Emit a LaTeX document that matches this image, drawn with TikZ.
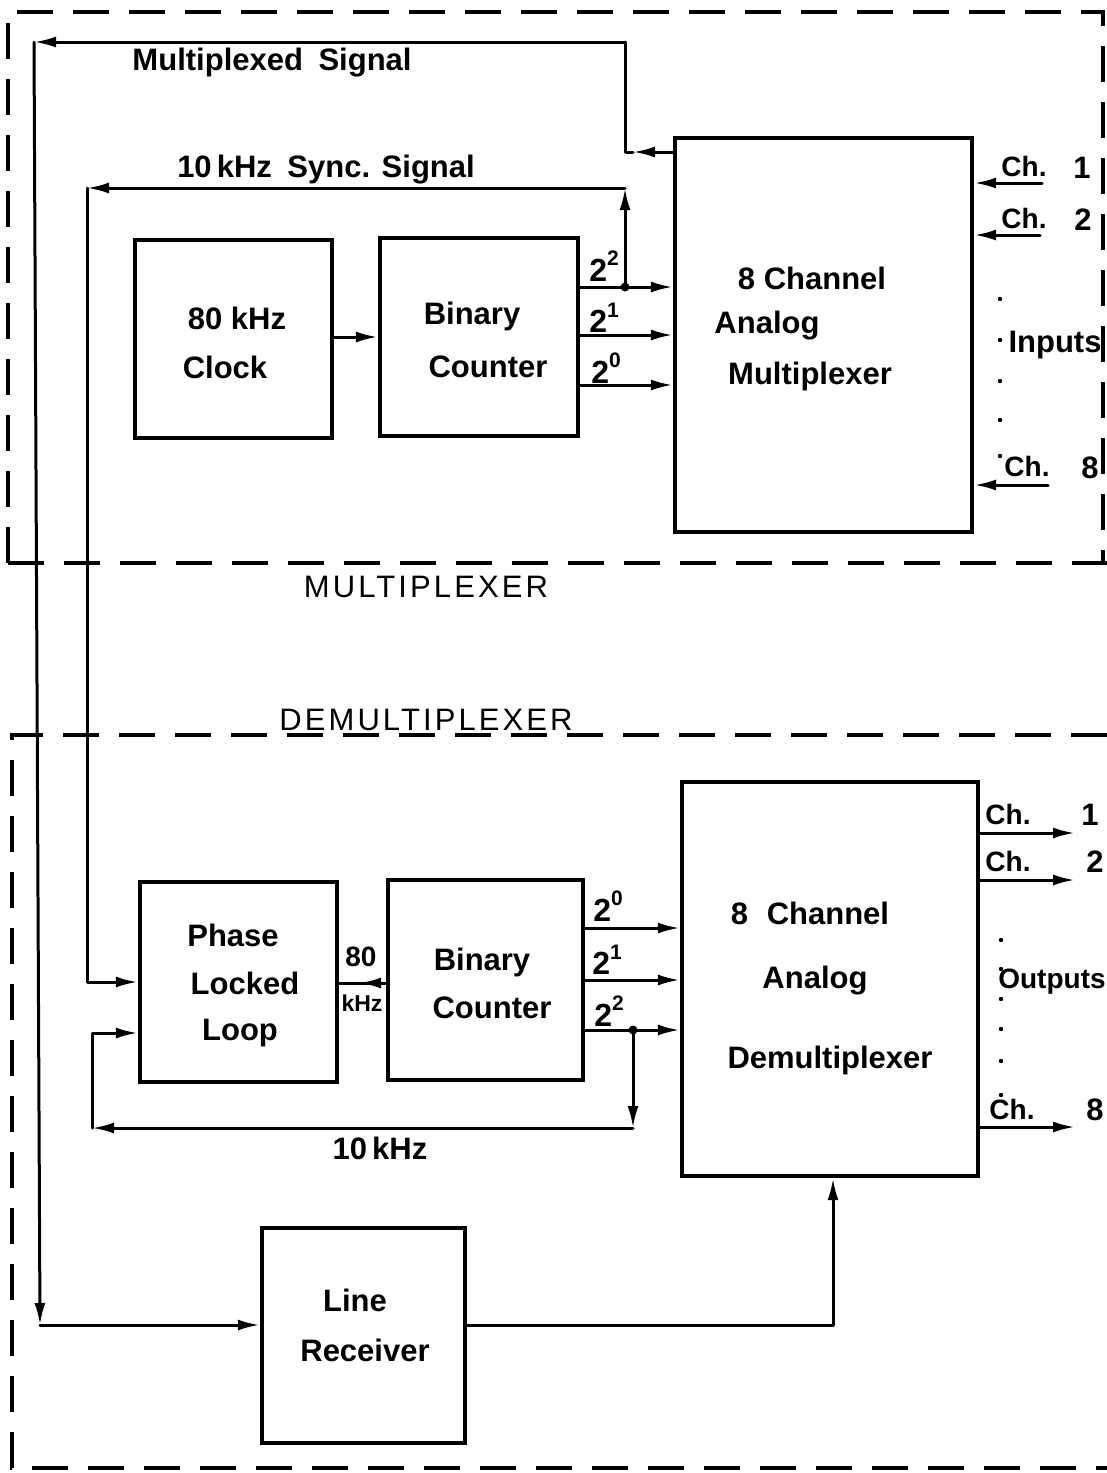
\documentclass[tikz,border=0pt]{standalone}
\usepackage{fontspec}
\setmainfont{Liberation Sans}
\usetikzlibrary{arrows.meta,calc}
\newcommand\mypow[1]{2\raisebox{0.48em}{\fontsize{21}{21}\selectfont #1}}
\begin{document}
\begin{tikzpicture}[x=1pt,y=-1pt,
  blk/.style={draw,line width=4.2pt,inner sep=0pt},
  lbl/.style={inner sep=0pt,font=\fontsize{31}{34}\selectfont\bfseries},
  chl/.style={inner sep=0pt,font=\fontsize{28}{30}\selectfont\bfseries},
  sec/.style={inner sep=0pt,font=\fontsize{31}{32}\selectfont\addfontfeature{LetterSpace=10}},
  pw/.style={inner sep=0pt,font=\fontsize{32}{34}\selectfont\bfseries},
  conn/.style={line width=3pt,line cap=round,line join=round},
  tip/.style={-{Latex[length=22pt,width=11pt]}},
  border/.style={line width=3.2pt,dash pattern=on 36pt off 20pt},
  jdot/.style={circle,fill,inner sep=0pt,minimum size=9pt}]
\fill[white] (0,0) rectangle (1107,1473);
\useasboundingbox (0,0) rectangle (1107,1473);

% dashed section borders
\draw[border] (8,563) -- (8,12) -- (1103,12) -- (1103,563);
\draw[border] (8,563) -- (1107,563);
\draw[border] (1107,735) -- (12,735) -- (12,1468) -- (1107,1468);

% blocks
\node[blk,minimum width=197pt,minimum height=198pt] (clock) at (233.5,339) {};
\node[blk,minimum width=198pt,minimum height=198pt] (cnt1) at (479,337) {};
\node[blk,minimum width=297pt,minimum height=394pt] (mux) at (823.5,335) {};
\node[blk,minimum width=197pt,minimum height=200pt] (pll) at (238.5,982) {};
\node[blk,minimum width=195pt,minimum height=200pt] (cnt2) at (485.5,980) {};
\node[blk,minimum width=296pt,minimum height=394pt] (demux) at (830,979) {};
\node[blk,minimum width=203pt,minimum height=215pt] (lr) at (363.5,1335.5) {};

% block texts
\node[lbl] (t1) at (237,318) {80 kHz};
\node[lbl] (t2) at (225,367) {Clock};
\node[lbl] (t3) at (472,316) {Binary};
\node[lbl] (t4) at (488,367) {Counter};
\node[lbl] (t5) at (812,278) {8 Channel};
\node[lbl] (t6) at (767,326) {Analog};
\node[lbl] (t7) at (810,376) {Multiplexer};
\node[lbl] (t8) at (233,935) {Phase};
\node[lbl] (t9) at (245,983) {Locked};
\node[lbl] (t10) at (240,1033) {Loop};
\node[lbl] (t11) at (482,962) {Binary};
\node[lbl] (t12) at (492,1008) {Counter};
\node[lbl] (t13) at (810,913) {8\hspace{0.6em}Channel};
\node[lbl] (t14) at (815,981) {Analog};
\node[lbl] (t15) at (830,1060) {Demultiplexer};
\node[lbl] (t16) at (355,1300) {Line};
\node[lbl] (t17) at (365,1350) {Receiver};

% signal labels
\node[lbl] (l1) at (272,63) {Multiplexed\hspace{0.5em}Signal};
\node[lbl] (l2) at (326,170) {10\,kHz\hspace{0.5em}Sync. Signal};
\node[sec] (l3) at (426,587) {MULTIPLEXER};
\node[sec,anchor=south] (l4) at (426,731) {DEMULTIPLEXER};
\node[lbl] (l5) at (1055,345) {Inputs};
\node[lbl,font=\fontsize{28}{30}\selectfont\bfseries] (l6) at (1052,982) {Outputs};
\node[lbl] (l7) at (380,1148) {10\,kHz};
\node[lbl,font=\fontsize{28}{30}\selectfont\bfseries] (l8) at (361,957) {80};
\node[lbl,font=\fontsize{23}{24}\selectfont\bfseries] (l9) at (362,1003) {kHz};

% exponent labels
\node[pw] (e1) at (604,266) {\mypow{2}};
\node[pw] (e2) at (604,318) {\mypow{1}};
\node[pw] (e3) at (606,368) {\mypow{0}};
\node[pw] (e4) at (608,906) {\mypow{0}};
\node[pw] (e5) at (607,960) {\mypow{1}};
\node[pw] (e6) at (609,1011) {\mypow{2}};

% channel labels
\node[chl] (c1) at (1024,166) {Ch.};
\node[lbl] (c1n) at (1082,168) {1};
\node[chl] (c2) at (1024,218) {Ch.};
\node[lbl] (c2n) at (1083,220) {2};
\node[chl] (c8) at (1027,466) {Ch.};
\node[lbl] (c8n) at (1090,468) {8};
\node[chl] (d1) at (1008,814) {Ch.};
\node[lbl] (d1n) at (1090,815) {1};
\node[chl] (d2) at (1008,861) {Ch.};
\node[lbl] (d2n) at (1095,862) {2};
\node[chl] (d8) at (1012,1109) {Ch.};
\node[lbl] (d8n) at (1095,1110) {8};

% ellipsis dots
\foreach \yy in {299,340,381,420,456} \fill (1000,\yy) circle (2.2pt);
\foreach \yy in {940,969,999,1029,1061,1095} \fill (1001,\yy) circle (2.2pt);

% coordinates
\coordinate (j1) at (625,287);
\coordinate (m1) at (625,152);
\coordinate (m2) at (625,42);
\coordinate (m3) at (34,42);
\coordinate (m4) at (40,1325);
\coordinate (s1) at (625,188);
\coordinate (s2) at (87,188);
\coordinate (s3) at (87,982);
\coordinate (j2) at (633,1030);
\coordinate (f1) at (633,1128);
\coordinate (f2) at (92,1128);
\coordinate (f3) at (92,1033);
\coordinate (k1) at (0,337);
\coordinate (k2) at (0,983);
\coordinate (r1) at (833,1325);
\coordinate (i1) at (1042,183);
\coordinate (i2) at (1040,235);
\coordinate (i8) at (1048,485);
\coordinate (o1) at (1075,833);
\coordinate (o2) at (1075,880);
\coordinate (o8) at (1075,1127);

% upper connectors
\draw[conn,tip] (clock.east |- k1) -- (cnt1.west |- k1);
\draw[conn,tip] (cnt1.east |- j1) -- (mux.west |- j1);
\draw[conn,tip] (cnt1.east |- 0,335) -- (mux.west |- 0,335);
\draw[conn,tip] (cnt1.east |- 0,385) -- (mux.west |- 0,385);
\node[jdot] (jd1) at (j1) {};
\draw[conn,tip] (j1) -- (s1);
\draw[conn,tip] (s1) -- (s2);
\draw[conn,tip] (s2) -- (s3) -- (pll.west |- s3);
\draw[conn,tip] (mux.west |- m1) -- ($(m1)+(8,0)$);
\draw[conn] ($(m1)+(8,0)$) -- (m1) -- (m2);
\draw[conn,tip] (m2) -- (m3);
\draw[conn,tip] (m3) -- (m4);
\draw[conn,tip] (m4) -- (lr.west |- m4);
\draw[conn,tip] (i1) -- (mux.east |- i1);
\draw[conn,tip] (i2) -- (mux.east |- i2);
\draw[conn,tip] (i8) -- (mux.east |- i8);

% lower connectors
\draw[conn] (cnt2.west |- k2) -- (pll.east |- k2);
\draw[conn,tip] (cnt2.west |- k2) -- ($(pll.east |- k2)+(20,0)$);
\draw[conn,tip] (cnt2.east |- 0,928) -- (demux.west |- 0,928);
\draw[conn,tip] (cnt2.east |- 0,980) -- (demux.west |- 0,980);
\draw[conn,tip] (cnt2.east |- j2) -- (demux.west |- j2);
\node[jdot] (jd2) at (j2) {};
\draw[conn,tip] (j2) -- (f1);
\draw[conn,tip] (f1) -- (f2);
\draw[conn,tip] (f2) -- (f3) -- (pll.west |- f3);
\draw[conn,tip] (lr.east |- r1) -- (r1) -- (demux.south -| r1);
\draw[conn,tip] (demux.east |- o1) -- (o1);
\draw[conn,tip] (demux.east |- o2) -- (o2);
\draw[conn,tip] (demux.east |- o8) -- (o8);
\end{tikzpicture}
\end{document}
